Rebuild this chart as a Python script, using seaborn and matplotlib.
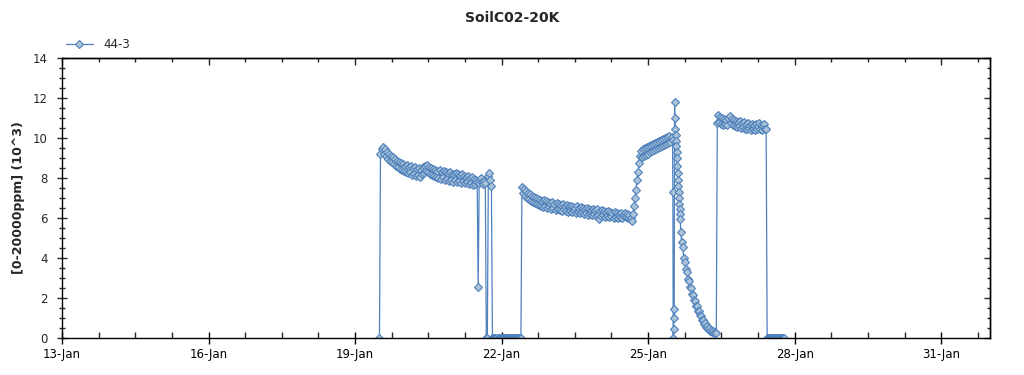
import matplotlib
matplotlib.use("Agg")
import numpy as np
import pandas as pd
import seaborn as sns
import matplotlib.pyplot as plt
import matplotlib.dates as mdates
from matplotlib.ticker import NullFormatter

# ---------------- data ----------------
series_name = "44-3"
title_text = "SoilC02-20K"
ylabel_text = "[0-20000ppm] (10^3)"

# segment A: half-hourly from 19-Jan 12:00
segA_start = "2024-01-19 12:00"
segA_freq = "30min"
segA_values = [0,
    9.2, 9.45, 9.55, 9.2, 9.45, 9.1, 9.3, 8.95, 9.2, 8.85, 9.1, 8.8,
    9.05, 8.7, 8.95, 8.6, 8.85, 8.55, 8.8, 8.45, 8.75, 8.4, 8.7, 8.35,
    8.6, 8.3, 8.65, 8.25, 8.55, 8.3, 8.6, 8.15, 8.5, 8.2, 8.55, 8.1,
    8.45, 8.15, 8.5, 8.05, 8.4, 8.2, 8.55, 8.25, 8.6, 8.35, 8.65, 8.3,
    8.55, 8.2, 8.5, 8.15, 8.45, 8.1, 8.4, 8.05, 8.35, 8.0, 8.4, 7.95,
    8.3, 8.05, 8.35, 7.9, 8.3, 7.95, 8.25, 7.85, 8.3, 7.9, 8.2, 7.8,
    8.2, 7.9, 8.25, 7.8, 8.2, 7.85, 8.15, 7.75, 8.2, 7.85, 8.1, 7.75,
    8.05, 7.8, 8.1, 7.7, 8.0, 7.75, 8.05, 7.65, 7.95, 7.7, 7.9, 7.8,
    2.55, 7.75, 7.9, 8.0, 7.8, 7.7, 7.85, 7.75, 0, 0, 8.1, 8.25, 7.9, 7.6]

# segment B: half-hourly zeros from 21-Jan 19:30
segB_start = "2024-01-21 19:30"
segB_freq = "30min"
segB_values = [0] * 29

# segment C: half-hourly from 22-Jan 10:00
segC_start = "2024-01-22 10:00"
segC_freq = "30min"
segC_values = [
    7.55, 7.25, 7.45, 7.1, 7.35, 7.0, 7.25, 6.95, 7.2, 6.85, 7.1, 6.8,
    7.05, 6.75, 7.0, 6.7, 6.95, 6.65, 6.9, 6.6, 6.85, 6.55, 6.9, 6.6,
    6.85, 6.5, 6.8, 6.55, 6.75, 6.45, 6.8, 6.5, 6.7, 6.4, 6.75, 6.45,
    6.7, 6.4, 6.65, 6.35, 6.7, 6.45, 6.6, 6.35, 6.65, 6.3, 6.6, 6.35,
    6.6, 6.3, 6.55, 6.35, 6.5, 6.25, 6.6, 6.3, 6.5, 6.25, 6.55, 6.3,
    6.5, 6.2, 6.45, 6.25, 6.5, 6.15, 6.45, 6.2, 6.4, 6.15, 6.45, 6.2,
    6.4, 6.1, 6.45, 6.15, 5.95, 6.35, 6.1, 6.4, 6.15, 6.35, 6.05, 6.3,
    6.1, 6.35, 6.05, 6.3, 6.1, 6.25, 6.0, 6.3, 6.05, 6.25, 6.0, 6.2,
    6.05, 6.25, 6.0, 6.15]

# segment D: half-hourly from 24-Jan 12:00
segD_start = "2024-01-24 12:00"
segD_freq = "30min"
segD_values = [6.15, 6.25, 6.05, 6.2, 6.0, 6.15, 5.95, 6.0, 5.85, 6.2, 6.6, 7.0, 7.4, 7.9,
    8.3, 8.75,
    9.1, 9.35, 9.05, 9.45, 9.1, 9.5, 9.15, 9.55, 9.2, 9.6, 9.3, 9.65, 9.35, 9.7, 9.4, 9.75,
    9.45, 9.8, 9.5, 9.85, 9.55, 9.9, 9.6, 9.95, 9.65, 10.0, 9.7, 10.05, 9.75, 10.1, 9.8,
    10.05, 9.9]

# segment E: 10-minute readings from 25-Jan 12:10
segE_start = "2024-01-25 12:10"
segE_freq = "10min"
segE_values = [7.3, 0, 0.45, 1.0, 1.45, 11.8, 11.0, 10.45, 10.15, 9.85, 9.6, 9.3, 9.0,
    8.6, 8.25, 7.9, 7.6, 7.3, 7.0, 6.7, 6.45, 6.2, 5.95]

# segment F: half-hourly from 25-Jan 16:00
segF_start = "2024-01-25 16:00"
segF_freq = "30min"
segF_values = [5.3, 4.8, 4.55, 4.0, 3.8, 3.45, 3.3, 2.95, 2.85, 2.55, 2.5, 2.2, 2.15, 1.9,
    1.85, 1.6, 1.6, 1.35, 1.35, 1.15, 1.1, 0.9, 0.9, 0.7, 0.75, 0.55, 0.6, 0.45, 0.5, 0.35,
    0.4, 0.3, 0.35, 0.25, 0.3, 0.25]

# segment G: half-hourly from 26-Jan 10:00
segG_start = "2024-01-26 10:00"
segG_freq = "30min"
segG_values = [
    10.75, 11.15, 10.8, 11.05, 10.7, 11.0, 10.65, 10.95, 10.7, 10.9, 10.65, 11.0,
    11.1, 10.75, 10.95, 10.65, 10.9, 10.6, 10.85, 10.55, 10.8, 10.6, 10.85, 10.5,
    10.75, 10.55, 10.8, 10.45, 10.7, 10.45, 10.75, 10.5, 10.65, 10.4, 10.7, 10.45,
    10.65, 10.4, 10.7, 10.45, 10.6, 10.75, 10.45, 10.65, 10.4, 10.6, 10.7, 10.45,
    10.45] + [0] * 18

x_start = "2024-01-13"
x_end = "2024-02-01"
major_tick_dates = ["2024-01-13", "2024-01-16", "2024-01-19", "2024-01-22",
                    "2024-01-25", "2024-01-28", "2024-01-31"]
y_max = 14
y_major_step = 2
y_minor_step = 0.5

# ---------------- build table ----------------
segments = [(segA_start, segA_freq, segA_values), (segB_start, segB_freq, segB_values),
            (segC_start, segC_freq, segC_values), (segD_start, segD_freq, segD_values),
            (segE_start, segE_freq, segE_values), (segF_start, segF_freq, segF_values),
            (segG_start, segG_freq, segG_values)]
frames = []
for start, freq, vals in segments:
    t = pd.date_range(start, periods=len(vals), freq=freq)
    frames.append(pd.DataFrame({"time": t, "value": vals}))
df = pd.concat(frames, ignore_index=True)
df["x"] = mdates.date2num(df["time"])

LINE = "#4f81bd"
FACE = "#adc4d8"

sns.set_style("white")
plt.rcParams["font.family"] = ["DejaVu Sans"]

fig = plt.figure(figsize=(10.24, 3.75), dpi=100)
ax = fig.add_axes([62 / 1024, 37 / 375, 928 / 1024, 280 / 375])

sns.lineplot(data=df, x="x", y="value", ax=ax, color=LINE, linewidth=0.9,
             marker="D", markersize=4.0, markerfacecolor=FACE, markeredgecolor=LINE,
             markeredgewidth=0.8, label=series_name, sort=False, estimator=None)

xmin = mdates.date2num(pd.Timestamp(x_start))
xmax = mdates.date2num(pd.Timestamp(x_end))
ax.set_xlim(xmin, xmax)
ax.set_ylim(0, y_max)

major_x = mdates.date2num(pd.to_datetime(major_tick_dates))
minor_x = mdates.date2num(pd.date_range(x_start, x_end, freq="18h"))
ax.set_xticks(major_x)
ax.set_xticks(minor_x, minor=True)
ax.xaxis.set_major_formatter(mdates.DateFormatter("%d-%b"))
ax.set_yticks(np.arange(0, y_max + 0.01, y_major_step))
ax.set_yticks(np.arange(0, y_max + 0.01, y_minor_step), minor=True)

ax.tick_params(axis="x", which="both", bottom=True, top=False)
ax.tick_params(axis="y", which="both", left=True, right=False)
ax.tick_params(axis="x", which="major", direction="inout", length=9, width=1,
               labelsize=8.5, pad=3, colors="black")
ax.tick_params(axis="x", which="minor", direction="in", length=4, width=1)
ax.tick_params(axis="y", which="major", direction="inout", length=7, width=1,
               labelsize=8.5, pad=7)
ax.tick_params(axis="y", which="minor", direction="inout", length=5, width=1)

secx = ax.secondary_xaxis("top")
secx.set_xticks(major_x)
secx.set_xticks(minor_x, minor=True)
secx.xaxis.set_major_formatter(NullFormatter())
secx.tick_params(which="both", top=True)
secx.tick_params(which="major", direction="in", length=5, width=1)
secx.tick_params(which="minor", direction="in", length=3, width=1)

secy = ax.secondary_yaxis("right")
secy.set_yticks(np.arange(0, y_max + 0.01, y_major_step))
secy.set_yticks(np.arange(0, y_max + 0.01, y_minor_step), minor=True)
secy.yaxis.set_major_formatter(NullFormatter())
secy.tick_params(which="both", right=True)
secy.tick_params(which="major", direction="in", length=4, width=1)
secy.tick_params(which="minor", direction="in", length=2.5, width=1)

for s in ax.spines.values():
    s.set_color("black")
    s.set_linewidth(1)
for sec in (secx, secy):
    for s in sec.spines.values():
        s.set_color("black")
        s.set_linewidth(1)

ax.set_xlabel("")
ax.set_ylabel("")
fig.text(0.018, (375 - 198) / 375, ylabel_text, rotation=90, ha="center", va="center",
         fontsize=9, fontweight="bold")
fig.text(0.5, 1 - 18 / 375, title_text, ha="center", va="center", fontsize=10,
         fontweight="bold")

leg = ax.legend(loc="center left", bbox_to_anchor=(0.0, 1 + 13 / 280), frameon=False,
                fontsize=8.5, handlelength=2.3, handletextpad=0.9, borderpad=0,
                borderaxespad=0.3)

fig.savefig("out.png", dpi=100, facecolor="white")
